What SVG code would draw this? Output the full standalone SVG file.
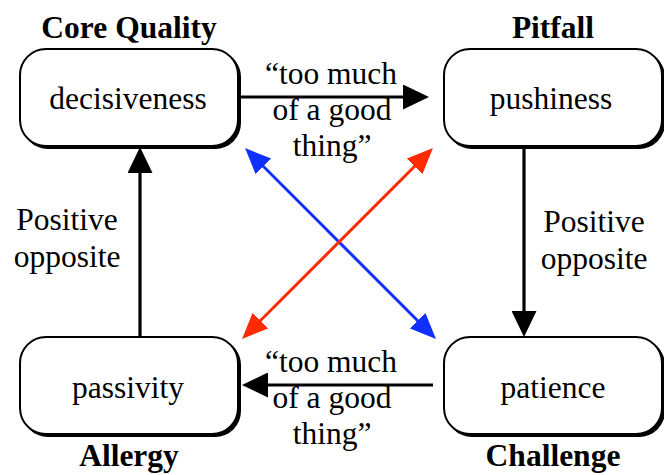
<svg xmlns="http://www.w3.org/2000/svg" width="664" height="475" viewBox="0 0 664 475">
<style>
text{font-family:"Liberation Serif","Times New Roman",serif;font-size:31.5px;fill:#000;text-anchor:middle}
.title{font-weight:bold}
.box{fill:#fff;stroke:#000;stroke-width:2}
.shadow{fill:#000}
.conn{stroke:#000;stroke-width:3.2;fill:none}
.blue{stroke:#1030ff;stroke-width:3;fill:none}
.red{stroke:#ff2a00;stroke-width:3;fill:none}
</style>
<defs>
<marker id="ab" markerUnits="userSpaceOnUse" viewBox="0 0 26 25" refX="15" refY="12.5" markerWidth="26" markerHeight="25" orient="auto"><path d="M0,0 L26,12.5 L0,25 z" fill="#000"/></marker>
<marker id="abl" markerUnits="userSpaceOnUse" viewBox="0 0 26 22" refX="15" refY="11" markerWidth="26" markerHeight="22" orient="auto-start-reverse"><path d="M0,0 L26,11 L0,22 z" fill="#1030ff"/></marker>
<marker id="ar" markerUnits="userSpaceOnUse" viewBox="0 0 26 22" refX="15" refY="11" markerWidth="26" markerHeight="22" orient="auto-start-reverse"><path d="M0,0 L26,11 L0,22 z" fill="#ff2a00"/></marker>
</defs>
<g id="connectors">
<line class="conn" x1="239" y1="97" x2="418" y2="97" marker-end="url(#ab)"/>
<line class="conn" x1="433" y1="385" x2="253" y2="385" marker-end="url(#ab)"/>
<line class="conn" x1="140" y1="337" x2="140" y2="158" marker-end="url(#ab)"/>
<line class="conn" x1="524" y1="147" x2="524" y2="326" marker-end="url(#ab)"/>
<line class="blue" x1="252.8" y1="155.8" x2="428.2" y2="331.2" marker-start="url(#abl)" marker-end="url(#abl)"/>
<line class="red" x1="425.2" y1="155.8" x2="249.8" y2="331.2" marker-start="url(#ar)" marker-end="url(#ar)"/>
<text x="331" y="84">“too much</text>
<text x="332" y="120">of a good</text>
<text x="332" y="156">thing”</text>
<text x="331" y="372">“too much</text>
<text x="332" y="408">of a good</text>
<text x="332" y="444">thing”</text>
<text x="67" y="230">Positive</text>
<text x="67" y="267">opposite</text>
<text x="594" y="232">Positive</text>
<text x="594" y="269">opposite</text>
</g>
<g id="core-quality">
<rect class="shadow" x="22" y="51" width="219" height="98" rx="26"/>
<rect class="box" x="20" y="49" width="218" height="97" rx="26"/>
<text x="128" y="109">decisiveness</text>
<text class="title" x="129" y="38">Core Quality</text>
</g>
<g id="pitfall">
<rect class="shadow" x="446" y="51" width="219" height="98" rx="26"/>
<rect class="box" x="444" y="49" width="218" height="97" rx="26"/>
<text x="551" y="109">pushiness</text>
<text class="title" x="553" y="38">Pitfall</text>
</g>
<g id="allergy">
<rect class="shadow" x="22" y="339" width="219" height="98" rx="26"/>
<rect class="box" x="20" y="337" width="218" height="97" rx="26"/>
<text x="128" y="398">passivity</text>
<text class="title" x="129" y="466">Allergy</text>
</g>
<g id="challenge">
<rect class="shadow" x="446" y="339" width="219" height="98" rx="26"/>
<rect class="box" x="444" y="337" width="218" height="97" rx="26"/>
<text x="553" y="398">patience</text>
<text class="title" x="553" y="466">Challenge</text>
</g>
</svg>
